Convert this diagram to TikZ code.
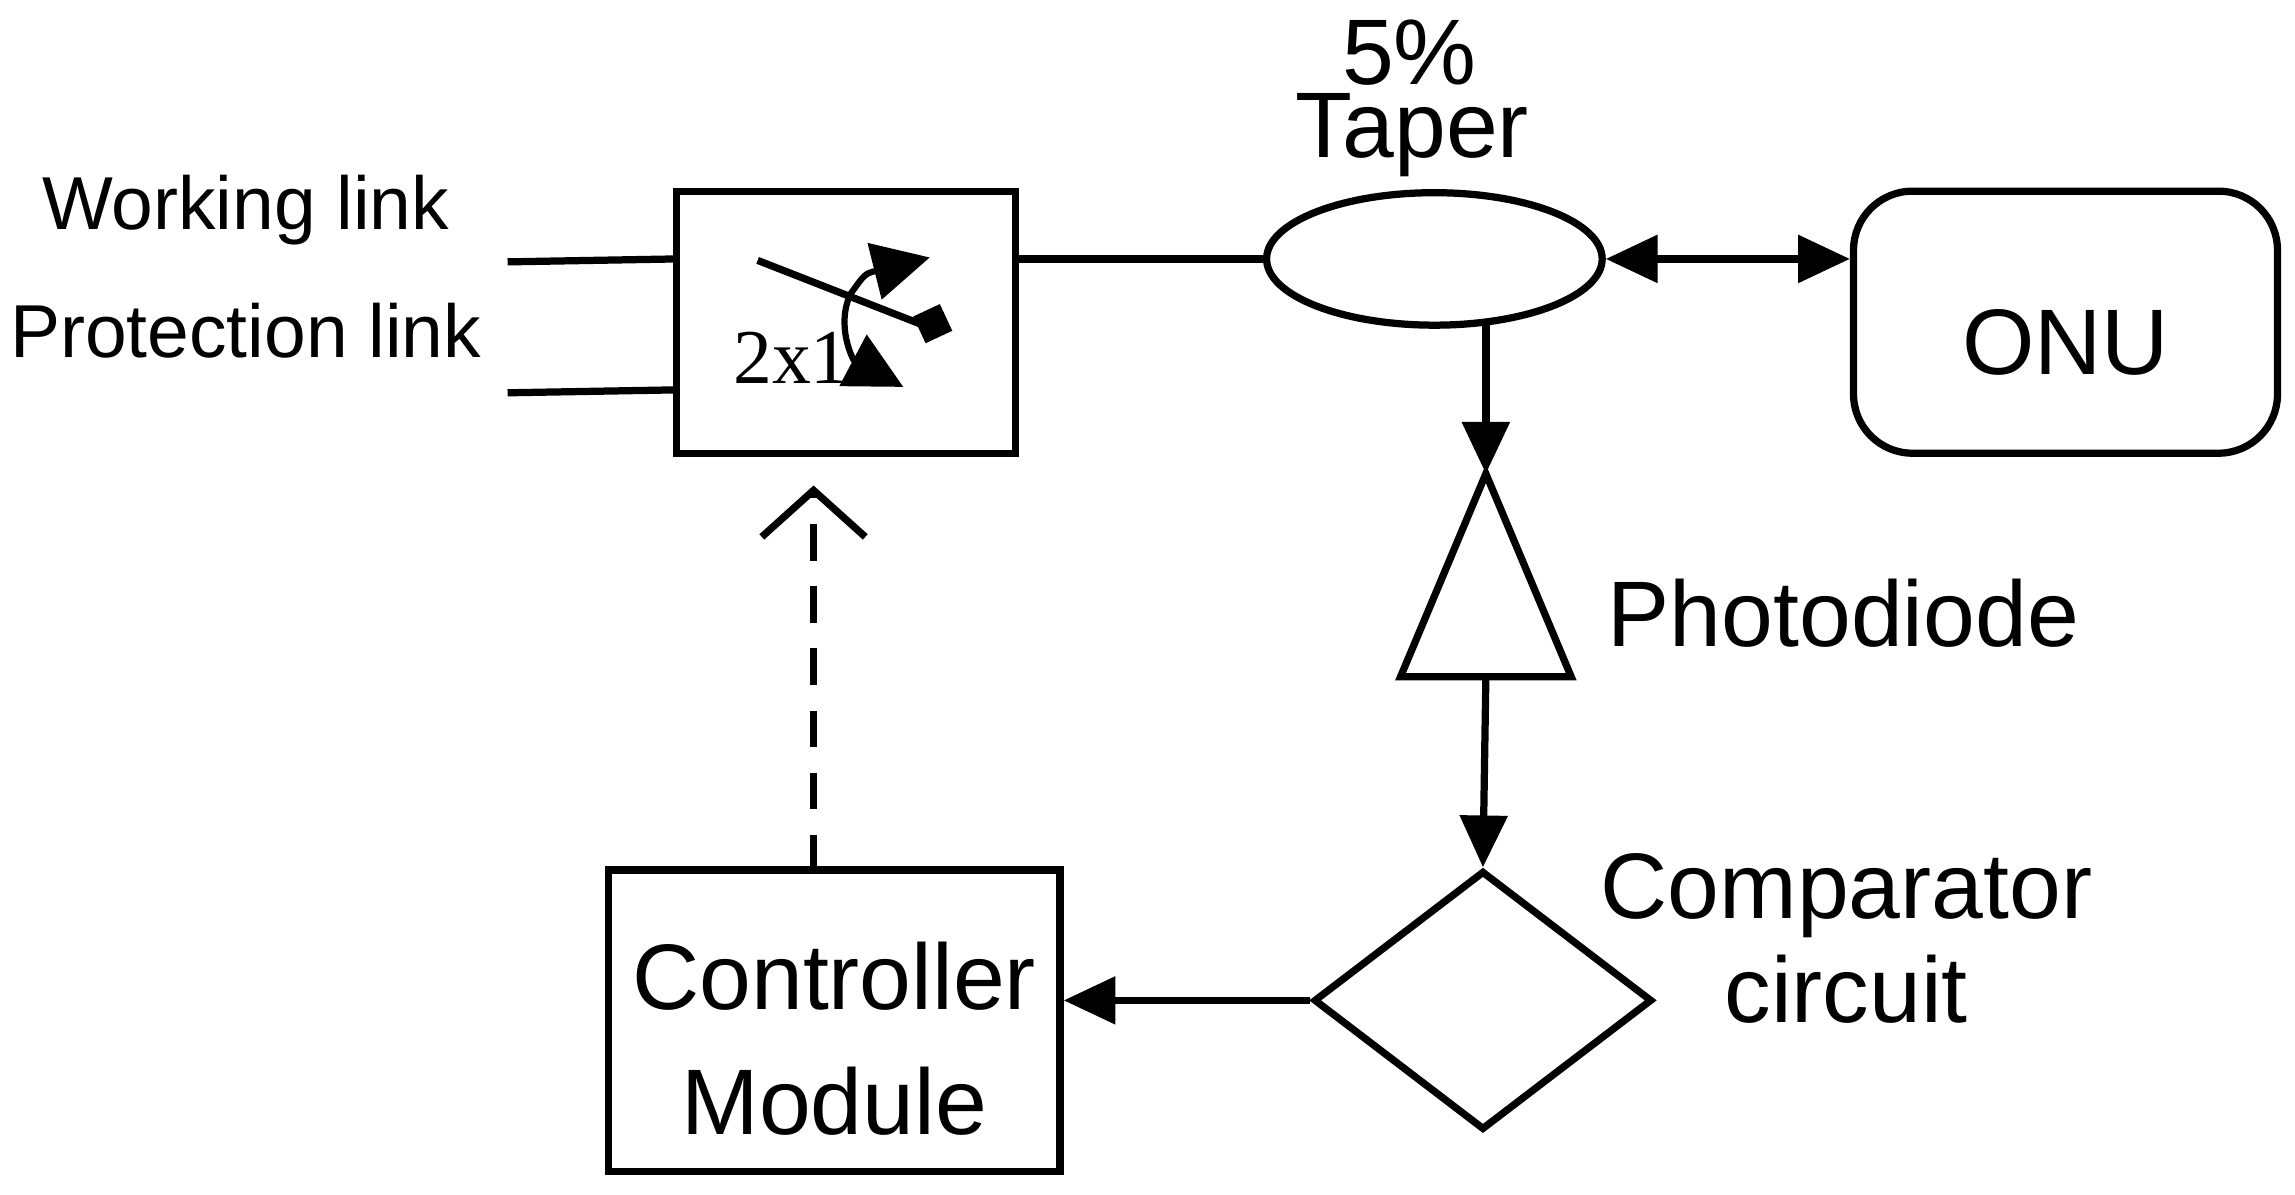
\documentclass[tikz,border=0pt]{standalone}
\usepackage{fontspec}
\setmainfont{Liberation Sans}
\newfontfamily\serifx{Liberation Serif}
\usetikzlibrary{arrows.meta,shapes.geometric}
\begin{document}
\begin{tikzpicture}[x=0.01cm,y=-0.01cm,line width=1.4pt,
  lbl/.style={font=\fontsize{14.5}{17}\selectfont,inner sep=0pt},
  big/.style={font=\fontsize{18}{21}\selectfont,inner sep=0pt},
  arr/.style={-{Triangle[length=10pt,width=9pt]}}]
\useasboundingbox (0,0) rectangle (1560,812);
\node[lbl] (wl) at (167,143) {Working link};
\node[lbl] (pl) at (167,225) {Protection link};
\node[draw,minimum width=2.3cm,minimum height=1.78cm,inner sep=0pt] (sw) at (575,219) {};
\coordinate (w0) at (345,178); \coordinate (w1) at (460,176);
\coordinate (p0) at (345,267); \coordinate (p1) at (460,265);
\draw (w0) -- (w1); \draw (p0) -- (p1);
% switch symbol
\coordinate (s0) at (515,177); \coordinate (s1) at (625,220);
\draw (s0) -- (s1);
\node[fill=black,minimum size=0.2cm,inner sep=0pt,rotate=25] (sq) at (634,220) {};
\coordinate (a0) at (578,200);
\coordinate (au) at (632,175);
\coordinate (ad) at (614,263);
\draw[-{Triangle[length=11pt,width=11pt]},line width=1.2pt] (a0) .. controls (588,186) .. (au);
\draw[-{Triangle[length=11pt,width=11pt]},line width=1.2pt] (a0) .. controls (568,222) and (580,245) .. (ad);
\node[font=\serifx\fontsize{15}{18}\selectfont,inner sep=0pt] (two) at (538,243) {2x1};
% taper
\node[draw,ellipse,minimum width=2.28cm,minimum height=0.9cm,inner sep=0pt] (tp) at (975,176) {};
\node[big] (pct) at (958,36) {5\%};
\node[big] (tap) at (960,92) {Taper};
\draw (sw.east |- 0,176) -- (tp.west);
\node[draw,rounded corners=0.4cm,minimum width=2.88cm,minimum height=1.78cm,inner sep=0pt] (onu) at (1404,219) {};
\node[big] at (1404,233) {ONU};
\draw[{Triangle[length=10pt,width=9pt]}-{Triangle[length=10pt,width=9pt]}] (tp.east) -- (onu.west |- tp.east);
% photodiode
\coordinate (tapx) at (1010,219);
\coordinate (pdtop) at (1010,322);
\coordinate (pdl) at (952,460); \coordinate (pdr) at (1068,460);
\coordinate (pdb) at (1010,460);
\draw (pdtop) -- (pdl) -- (pdr) -- cycle;
\draw[arr] (tapx) -- (pdtop);
\node[big] (pd) at (1253,417) {Photodiode};
% comparator
\node[draw,diamond,minimum width=2.3cm,minimum height=1.76cm,inner sep=0pt] (cmp) at (1008,680) {};
\draw[arr] (pdb) -- (cmp.north);
\node[big,align=center] (ct) at (1255,638) {Comparator\\[-1pt]circuit};
% controller
\node[draw,minimum width=3.07cm,minimum height=2.05cm,inner sep=0pt] (ctl) at (567,694) {};
\node[big,align=center,font=\fontsize{18}{24}\selectfont] at (567,706) {Controller\\Module};
\draw[arr] (cmp.west) -- (ctl.east |- cmp.west);
\coordinate (dtop) at (553,330);
\draw[dash pattern=on 7pt off 5pt,-{Straight Barb[length=9pt,width=20pt]}] (553,592) -- (dtop);
\end{tikzpicture}
\end{document}
